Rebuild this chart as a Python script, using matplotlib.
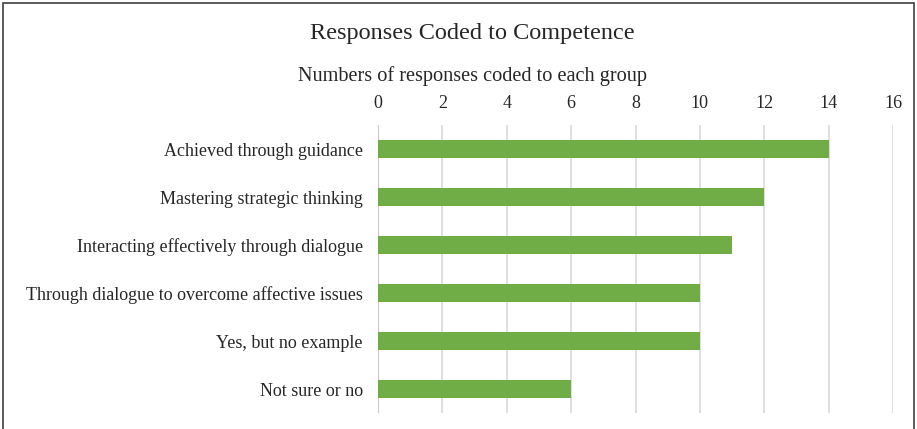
import matplotlib.pyplot as plt
from matplotlib.patches import Rectangle

plt.rcParams['font.family'] = ['Liberation Serif', 'DejaVu Serif']

# data (top to bottom as shown)
categories = ['Achieved through guidance', 'Mastering strategic thinking',
              'Interacting effectively through dialogue',
              'Through dialogue to overcome affective issues',
              'Yes, but no example', 'Not sure or no']
counts = [14, 12, 11, 10, 10, 6]
ticks = [0, 2, 4, 6, 8, 10, 12, 14, 16]

W, H = 917, 429
fig = plt.figure(figsize=(W / 100, H / 100), dpi=100)
ax = fig.add_axes([378 / W, 1 - 413 / H, (893 - 378) / W, (413 - 125) / H])

ypos = list(range(len(categories)))
ax.barh(ypos, counts, height=0.375, color='#70AD47', zorder=3)
ax.set_ylim(len(categories) - 0.5, -0.5)
ax.set_xlim(0, 16)
ax.set_yticks(ypos)
ax.set_yticklabels(categories, fontsize=13.0, color='#262626')
ax.set_xticks(ticks)
ax.set_xticklabels([str(t) for t in ticks], fontsize=13.0, color='#262626')
ax.xaxis.tick_top()
ax.tick_params(axis='both', length=0)
ax.tick_params(axis='y', pad=11)
ax.tick_params(axis='x', pad=9)
ax.grid(axis='x', color='#D9D9D9', linewidth=1.2, zorder=0)
for s in ax.spines.values():
    s.set_visible(False)
ax.axvline(0, color='#C8C8C8', linewidth=1.5, zorder=2)

fig.text(472 / W, 1 - 34 / H, 'Responses Coded to Competence', fontsize=17.5,
         ha='center', va='center', color='#262626')
fig.text(473 / W, 1 - 76 / H, 'Numbers of responses coded to each group', fontsize=14.6,
         ha='center', va='center', color='#262626')

# outer border
fig.patches.append(Rectangle((3 / W, -0.1), (914 - 3) / W, 1 - 3 / H + 0.1,
                             transform=fig.transFigure, fill=False,
                             edgecolor='#404040', linewidth=1.2))

fig.savefig('out.png', dpi=100)
